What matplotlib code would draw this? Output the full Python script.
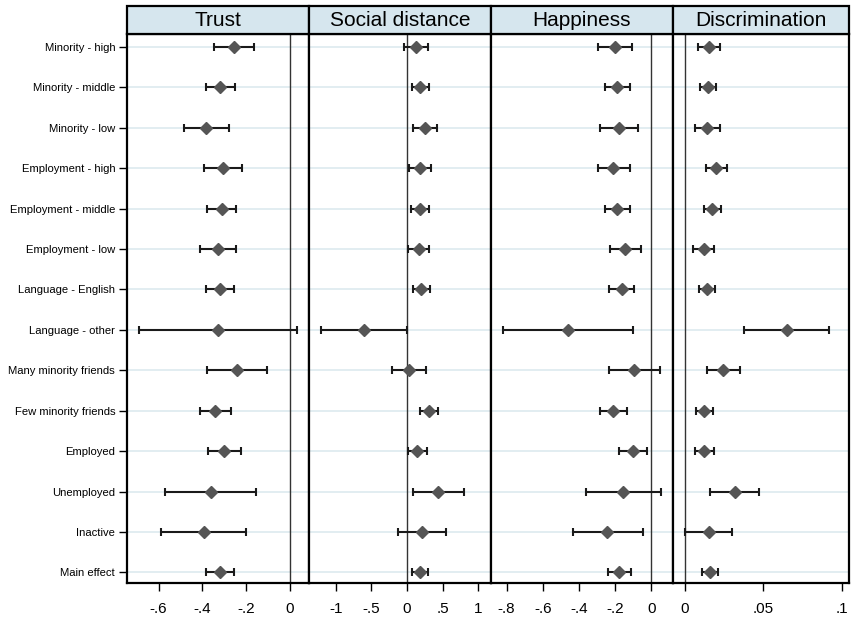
import matplotlib
matplotlib.use("Agg")
import matplotlib.pyplot as plt
from matplotlib.patches import Rectangle
from matplotlib.ticker import FuncFormatter

plt.rcParams['font.family'] = ['Liberation Sans', 'DejaVu Sans']

labels = ["Minority - high", "Minority - middle", "Minority - low",
          "Employment - high", "Employment - middle", "Employment - low",
          "Language - English", "Language - other",
          "Many minority friends", "Few minority friends",
          "Employed", "Unemployed", "Inactive", "Main effect"]

# point estimate, lower and upper bound of the interval
trust_est = [-0.256, -0.318, -0.382, -0.306, -0.311, -0.329, -0.320,
             -0.329, -0.241, -0.342, -0.300, -0.362, -0.393, -0.318]
trust_lo = [-0.347, -0.385, -0.483, -0.390, -0.379, -0.411, -0.384,
            -0.687, -0.378, -0.411, -0.376, -0.569, -0.588, -0.382]
trust_hi = [-0.162, -0.251, -0.277, -0.218, -0.244, -0.244, -0.254,
            0.033, -0.104, -0.268, -0.221, -0.155, -0.200, -0.254]

social_est = [0.122, 0.187, 0.248, 0.182, 0.178, 0.164, 0.201,
              -0.603, 0.033, 0.309, 0.136, 0.435, 0.215, 0.178]
social_lo = [-0.042, 0.070, 0.080, 0.033, 0.056, 0.014, 0.089,
             -1.202, -0.206, 0.187, 0.009, 0.080, -0.122, 0.066]
social_hi = [0.295, 0.309, 0.425, 0.341, 0.304, 0.309, 0.318,
             -0.005, 0.271, 0.435, 0.285, 0.795, 0.542, 0.290]

happy_est = [-0.201, -0.191, -0.177, -0.210, -0.188, -0.145, -0.164,
             -0.462, -0.096, -0.212, -0.101, -0.157, -0.243, -0.177]
happy_lo = [-0.293, -0.258, -0.284, -0.296, -0.256, -0.230, -0.232,
            -0.822, -0.232, -0.284, -0.179, -0.363, -0.433, -0.241]
happy_hi = [-0.105, -0.119, -0.074, -0.119, -0.118, -0.059, -0.097,
            -0.100, 0.046, -0.136, -0.022, 0.052, -0.048, -0.111]

discr_est = [0.0155, 0.0148, 0.0142, 0.0199, 0.0176, 0.0122, 0.0144,
             0.0650, 0.0245, 0.0123, 0.0123, 0.0318, 0.0155, 0.0159]
discr_lo = [0.0085, 0.0095, 0.0063, 0.0134, 0.0123, 0.0055, 0.0093,
            0.0378, 0.0145, 0.0070, 0.0063, 0.0161, 0.0004, 0.0110]
discr_hi = [0.0226, 0.0201, 0.0222, 0.0269, 0.0232, 0.0189, 0.0195,
            0.0921, 0.0352, 0.0182, 0.0187, 0.0474, 0.0301, 0.0210]

panels = [
    ("Trust", trust_est, trust_lo, trust_hi, (-0.744, 0.088), [-0.6, -0.4, -0.2, 0]),
    ("Social distance", social_est, social_lo, social_hi, (-1.374, 1.174), [-1, -0.5, 0, 0.5, 1]),
    ("Happiness", happy_est, happy_lo, happy_hi, (-0.888, 0.118), [-0.8, -0.6, -0.4, -0.2, 0]),
    ("Discrimination", discr_est, discr_lo, discr_hi, (-0.0076, 0.1045), [0, 0.05, 0.1]),
]


def stata_fmt(v, pos):
    # Stata style labels: -.6, .05, 0
    if abs(v) < 1e-12:
        return "0"
    s = f"{v:g}"
    if s.startswith("0."):
        s = s[1:]
    elif s.startswith("-0."):
        s = "-" + s[2:]
    return s


W, H = 851, 620
edges = [127, 309, 490.7, 672.7, 849]
bottom, top = 583.3, 34
head_h = (top - 6) / (bottom - top)

fig = plt.figure(figsize=(W / 100, H / 100), dpi=100)
ypos = list(range(1, len(labels) + 1))

for i, (title, est, lo, hi, xlim, ticks) in enumerate(panels):
    ax = fig.add_axes([edges[i] / W, 1 - bottom / H,
                       (edges[i + 1] - edges[i]) / W, (bottom - top) / H])
    for y in ypos:
        ax.axhline(y, color='#e2edf1', lw=1.4, zorder=0)
    ax.axvline(0, color='#333333', lw=1.0, zorder=1)
    err = [[e - l for e, l in zip(est, lo)], [h - e for e, h in zip(est, hi)]]
    ax.errorbar(est, ypos, xerr=err, fmt='none', ecolor='#1a1a1a',
                elinewidth=1.5, capsize=2.6, capthick=1.5, zorder=2)
    ax.plot(est, ypos, 'D', color='#555555', ms=5.8, mec='#555555', zorder=3)
    ax.set_xlim(*xlim)
    ax.set_ylim(14.27, 0.68)
    ax.set_xticks(ticks)
    ax.xaxis.set_major_formatter(FuncFormatter(stata_fmt))
    ax.tick_params(axis='x', labelsize=11, length=5.5, width=1, pad=8)
    if i == 0:
        ax.set_yticks(ypos)
        ax.set_yticklabels(labels)
        ax.tick_params(axis='y', labelsize=8.1, length=5.5, width=1, pad=3)
    else:
        ax.set_yticks([])
    for sp in ax.spines.values():
        sp.set_linewidth(1.6)
    # header strip
    ax.add_patch(Rectangle((0, 1), 1, head_h, transform=ax.transAxes,
                           facecolor='#d6e6ee', edgecolor='black', lw=1.6,
                           clip_on=False, zorder=5))
    ax.text(0.5, 1 + head_h / 2, title, transform=ax.transAxes,
            ha='center', va='center', fontsize=15, zorder=6)

fig.savefig("out.png", dpi=100)
